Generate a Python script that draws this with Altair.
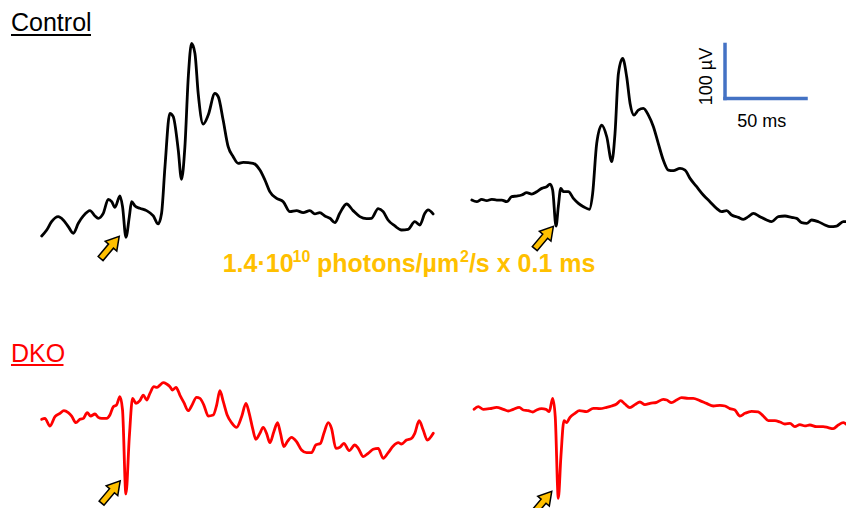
import altair as alt
import pandas as pd

# ---------------- data ----------------
# time in ms relative to the flash, voltage in µV relative to the pre-flash baseline
ctrl_a_t = [-52.0, -48.9, -45.9, -41.8, -38.7, -35.6, -32.5, -29.4, -26.3, -22.2, -19.1, -17.1, -14.0,
            -10.9, -8.8, -6.8, -3.7, -2.1, 0.0, 2.1, 3.5, 5.6, 8.6, 12.7, 16.9, 19.9, 22.0, 24.1, 27.1,
            29.2, 32.3, 34.3, 36.4, 38.5, 40.5, 42.6, 44.6, 47.7, 50.8, 54.9, 57.0, 60.0, 63.1, 66.2,
            69.3, 72.4, 78.5, 82.7, 85.8, 88.8, 93.0, 97.1, 101.2, 105.3, 109.4, 113.5, 116.6, 119.7,
            122.8, 125.9, 129.0, 132.0, 136.2, 140.2, 144.4, 148.5, 151.6, 155.7, 158.8, 161.8, 166.0,
            170.1, 174.2, 178.3, 181.4, 184.5, 186.5, 189.6]
ctrl_a_v = [-37.0, -26.0, -10.5, -1.2, -7.4, -19.7, -32.0, -13.6, 0.0, 9.9, 0.0, -4.3, 4.9,
            30.8, 26.5, 16.0, 37.0, 17.3, -39.5, -1.2, 26.5, 18.5, 14.2, 9.9, 0.0, -14.8, 4.9, 91.3,
            190.0, 183.8, 122.0, 67.8, 128.3, 257.8, 319.4, 300.9, 226.9, 170.2, 186.9, 226.9, 220.8,
            177.6, 128.3, 109.8, 97.5, 99.3, 97.5, 85.1, 66.6, 45.0, 32.7, 26.5, 8.0, 9.9, 6.2, 9.9,
            3.7, 6.2, 0.0, -4.3, -12.3, 4.9, 22.2, 9.9, -1.2, -4.9, -4.3, 13.6, 8.0, -7.4, -18.5,
            -26.0, -24.7, -10.5, -16.7, 4.9, 11.1, 3.7]

ctrl_b_t = [-52.0, -49.0, -45.9, -42.8, -39.7, -36.6, -33.5, -30.4, -27.4, -24.3, -21.2, -18.1, -15.0,
            -11.9, -8.8, -5.8, -3.7, -2.1, 0.0, 1.4, 2.9, 4.5, 7.6, 10.7, 13.8, 16.9, 20.6, 22.6, 25.1,
            28.2, 31.3, 34.4, 36.4, 38.5, 41.1, 43.6, 45.7, 48.1, 50.8, 53.9, 57.0, 60.1, 63.1, 66.2,
            69.3, 72.4, 76.5, 79.6, 82.7, 86.8, 90.9, 95.0, 99.1, 102.2, 105.3, 108.4, 112.5, 115.6,
            118.7, 121.8, 125.9, 130.0, 133.1, 137.2, 141.3, 145.4, 148.5, 151.6, 154.7, 157.8, 161.9,
            166.0, 169.1, 173.2, 177.3, 180.4, 183.5]
ctrl_b_v = [-6.2, -9.3, -4.9, -7.4, -4.9, -6.2, -6.2, -9.3, 0.0, 1.2, 3.1, 7.4, 4.9,
            9.3, 15.4, 18.5, 23.4, 12.3, -54.3, -18.5, 15.4, 9.3, 9.3, -3.1, -12.3, -18.5, -23.4, 6.2,
            98.7, 132.6, 111.0, 64.8, 117.2, 228.2, 255.9, 222.0, 172.7, 151.1, 160.3, 163.4, 151.1,
            129.5, 98.7, 67.8, 49.3, 48.1, 52.4, 49.3, 33.9, 18.5, 3.1, -9.3, -21.6, -27.8, -25.9,
            -33.9, -38.2, -41.9, -37.0, -30.8, -37.0, -43.2, -46.3, -37.0, -35.8, -38.2, -40.1, -48.1,
            -49.3, -43.2, -46.3, -52.4, -55.5, -54.3, -46.3, -46.3, -44.4]

dko_a_t = [-52.0, -50.0, -46.9, -43.8, -40.7, -38.3, -35.6, -33.5, -30.9, -28.4, -26.3, -23.9, -21.8,
           -19.1, -17.1, -15.0, -11.9, -9.9, -7.8, -5.8, -3.7, -2.1, 0.0, 2.1, 4.1, 6.2, 8.6, 10.7,
           12.8, 14.8, 17.3, 19.3, 21.0, 23.0, 25.1, 27.2, 28.8, 30.9, 33.3, 35.8, 38.5, 40.5, 43.6,
           45.7, 48.1, 50.8, 53.9, 56.0, 58.0, 60.1, 62.5, 65.2, 68.3, 71.4, 74.1, 76.1, 78.2, 80.2,
           82.7, 84.7, 86.8, 88.9, 91.3, 93.6, 95.4, 97.5, 99.6, 102.2, 105.3, 108.4, 111.5, 114.6,
           117.2, 120.1, 122.2, 124.9, 126.9, 129.6, 132.1, 134.5, 137.8, 141.3, 143.4, 146.5, 149.5,
           152.6, 155.7, 158.8, 161.9, 165.0, 168.1, 170.1, 173.2, 176.3, 178.3, 181.0, 183.5, 186.0,
           189.7]
dko_a_v = [-8.0, -6.2, -20.4, -3.1, 3.1, 8.0, 4.3, -1.9, -14.2, -8.0, -6.2, 4.3, -1.9,
           1.9, -4.3, -6.2, -6.2, 0.0, 15.4, 18.5, 33.9, 9.3, -146.2, -40.1, 30.8, 21.6, 26.5, 37.0,
           27.8, 40.1, 52.4, 51.2, 55.5, 59.8, 57.4, 52.4, 46.3, 51.2, 37.0, 22.8, 8.0, 16.7, 32.7,
           30.8, 18.5, -1.9, 0.0, 18.5, 45.0, 24.7, 0.0, -14.2, -22.8, -3.1, 21.6, 3.1, -24.7, -45.0,
           -33.9, -22.8, -33.9, -51.2, -30.8, -14.2, -33.9, -58.6, -49.3, -41.3, -49.3, -64.8, -69.7,
           -69.7, -55.5, -52.4, -33.9, -14.2, -24.7, -61.7, -59.8, -52.4, -66.0, -55.5, -61.7, -77.1,
           -70.9, -63.5, -61.7, -80.2, -69.7, -57.4, -51.2, -53.7, -46.3, -43.2, -33.9, -10.5, -27.8,
           -46.3, -33.9]

dko_b_t = [-52.0, -49.4, -46.3, -42.2, -38.1, -33.9, -30.9, -27.8, -24.1, -21.6, -18.5, -15.8, -13.4,
           -10.3, -7.6, -5.6, -3.5, -1.9, 0.0, 1.6, 3.5, 5.1, 7.2, 10.3, 13.0, 17.5, 21.6, 25.7, 29.8,
           32.9, 36.0, 38.5, 41.1, 44.2, 47.3, 50.4, 53.5, 56.6, 60.7, 64.8, 66.9, 69.9, 73.0, 76.1,
           80.2, 83.3, 87.4, 91.5, 95.7, 99.8, 102.9, 105.9, 109.0, 112.1, 115.2, 119.3, 123.4, 126.5,
           129.6, 133.7, 136.8, 139.9, 143.0, 146.0, 149.1, 152.2, 155.3, 159.4, 163.5, 166.6, 169.7,
           172.8, 175.9, 179.0, 182.1]
dko_b_v = [1.2, 6.2, 1.2, 2.5, 4.9, 1.2, -1.9, 1.2, 4.9, 0.0, -1.2, -3.7, 0.0,
           2.5, 1.2, -3.1, 21.6, -12.3, -163.4, -86.3, -19.7, -23.4, -13.6, -6.2, -1.2, -3.1, 3.1, 2.5,
           4.9, 7.4, 11.1, 17.3, 11.1, 4.3, 9.9, 14.8, 9.9, 12.3, 14.2, 19.7, 18.5, 13.6, 18.5, 22.8,
           21.6, 21.6, 17.3, 12.3, 7.4, 8.6, 7.4, 2.5, 0.0, -11.1, -6.2, -2.5, -3.7, -11.1, -19.7,
           -19.7, -22.2, -25.9, -24.7, -30.8, -27.1, -29.6, -27.8, -30.8, -30.8, -32.7, -34.5, -27.8,
           -23.4, -29.0, -30.8]

# arrow (stimulus marker) positions relative to each trace, ms / µV
arrow_t = [-9.9, -7.4, -9.3, -9.8]
arrow_v = [-58.3, -75.6, -142.6, -171.3]

trace_names = ["Control A", "Control B", "DKO A", "DKO B"]
groups = ["Control", "Control", "DKO", "DKO"]
scale_bar_ms = 50
scale_bar_uv = 100
stim_parts = ["1.4·10", "10", "photons/µm", "2", "/s x 0.1 ms"]

# ---------------- layout (page placement of each trace) ----------------
MS_PER_PX = 50 / 81
UV_PER_PX = 100 / 54
PAD_TOP = 12
W, H = 838, 500 - PAD_TOP
X_DOM = [0, W * MS_PER_PX]
Y_DOM = [0, H * UV_PER_PX]
x_off = [72.8, 338.3, 72.8, 339.7]
y_off = [540.8, 576.5, 172.2, 181.5]
bar_corner = (442.6, 758.4)

series = [(ctrl_a_t, ctrl_a_v), (ctrl_b_t, ctrl_b_v), (dko_a_t, dko_a_v), (dko_b_t, dko_b_v)]
rows = []
for i, (ts, vs) in enumerate(series):
    for k, (t, v) in enumerate(zip(ts, vs)):
        rows.append({"trace": trace_names[i], "group": groups[i], "k": k,
                     "gx": t + x_off[i], "gy": v + y_off[i]})
traces = pd.DataFrame(rows)

arrows = pd.DataFrame({
    "trace": trace_names,
    "gx": [arrow_t[i] + x_off[i] for i in range(4)],
    "gy": [arrow_v[i] + y_off[i] for i in range(4)],
})

bars = pd.DataFrame({
    "x": [bar_corner[0], bar_corner[0]],
    "x2": [bar_corner[0] + scale_bar_ms, bar_corner[0]],
    "y": [bar_corner[1], bar_corner[1]],
    "y2": [bar_corner[1], bar_corner[1] + scale_bar_uv],
})

xs = alt.Scale(domain=X_DOM, nice=False, zero=False)
ys = alt.Scale(domain=Y_DOM, nice=False, zero=False)
FONT = "Liberation Sans"

lines = alt.Chart(traces).mark_line(strokeWidth=2.8, interpolate="monotone", strokeCap="round",
                                    strokeJoin="round").encode(
    x=alt.X("gx:Q", scale=xs, axis=None),
    y=alt.Y("gy:Q", scale=ys, axis=None),
    detail="trace:N",
    order="k:Q",
    color=alt.Color("group:N", scale=alt.Scale(domain=["Control", "DKO"], range=["#000000", "#FF0000"]),
                    legend=None),
)

arrow_path = "M-0.22,1 L0.22,1 L0.22,-0.12 L0.52,-0.12 L0,-1 L-0.52,-0.12 L-0.22,-0.12 Z"
arrow_marks = alt.Chart(arrows).mark_point(shape=arrow_path, size=840, angle=40, filled=True,
                                           fill="#FFC000", stroke="#000000", strokeWidth=1.5,
                                           opacity=1).encode(
    x=alt.X("gx:Q", scale=xs, axis=None),
    y=alt.Y("gy:Q", scale=ys, axis=None),
)

bar_marks = alt.Chart(bars).mark_rule(color="#4472C4", strokeWidth=3.5, strokeCap="square").encode(
    x=alt.X("x:Q", scale=xs, axis=None), x2="x2:Q",
    y=alt.Y("y:Q", scale=ys, axis=None), y2="y2:Q",
)

def label(text, x, y, size, color="#000000", weight="normal", angle=0, align="left", baseline="alphabetic"):
    return alt.Chart(pd.DataFrame({"t": [text]})).mark_text(
        font=FONT, fontSize=size, color=color, fontWeight=weight, angle=angle,
        align=align, baseline=baseline).encode(x=alt.value(x), y=alt.value(y - PAD_TOP), text="t:N")

def underline(x1, x2, y, color):
    return alt.Chart(pd.DataFrame({"a": [0]})).mark_rule(color=color, strokeWidth=1.8).encode(
        x=alt.value(x1), x2=alt.value(x2), y=alt.value(y - PAD_TOP))

GOLD = "#FFC000"
stim = [
    label(stim_parts[0], 214.7, 263.7, 25, color=GOLD, weight="bold"),
    label(stim_parts[1], 284.6, 254.0, 16, color=GOLD, weight="bold"),
    label(stim_parts[2], 309.0, 263.7, 25, color=GOLD, weight="bold"),
    label(stim_parts[3], 452.0, 254.0, 16, color=GOLD, weight="bold"),
    label(stim_parts[4], 460.9, 263.7, 25, color=GOLD, weight="bold"),
]

chart = alt.layer(
    lines,
    arrow_marks,
    bar_marks,
    label("Control", 3, 22.5, 25),
    underline(3, 83, 27, "#000000"),
    label("DKO", 3, 353.7, 25, color="#FF0000"),
    underline(3, 55.5, 357, "#FF0000"),
    *stim,
    label("100 µV", 698.7, 68.5, 18, angle=270, align="center", baseline="middle"),
    label("50 ms", 753.7, 118.7, 18, align="center"),
).properties(
    width=W, height=H,
    padding={"top": PAD_TOP, "left": 0, "right": 0, "bottom": 0},
    autosize=alt.AutoSizeParams(type="none"),
).configure_view(stroke=None)

chart.save("out.html", embed_options={"renderer": "svg", "actions": False})
